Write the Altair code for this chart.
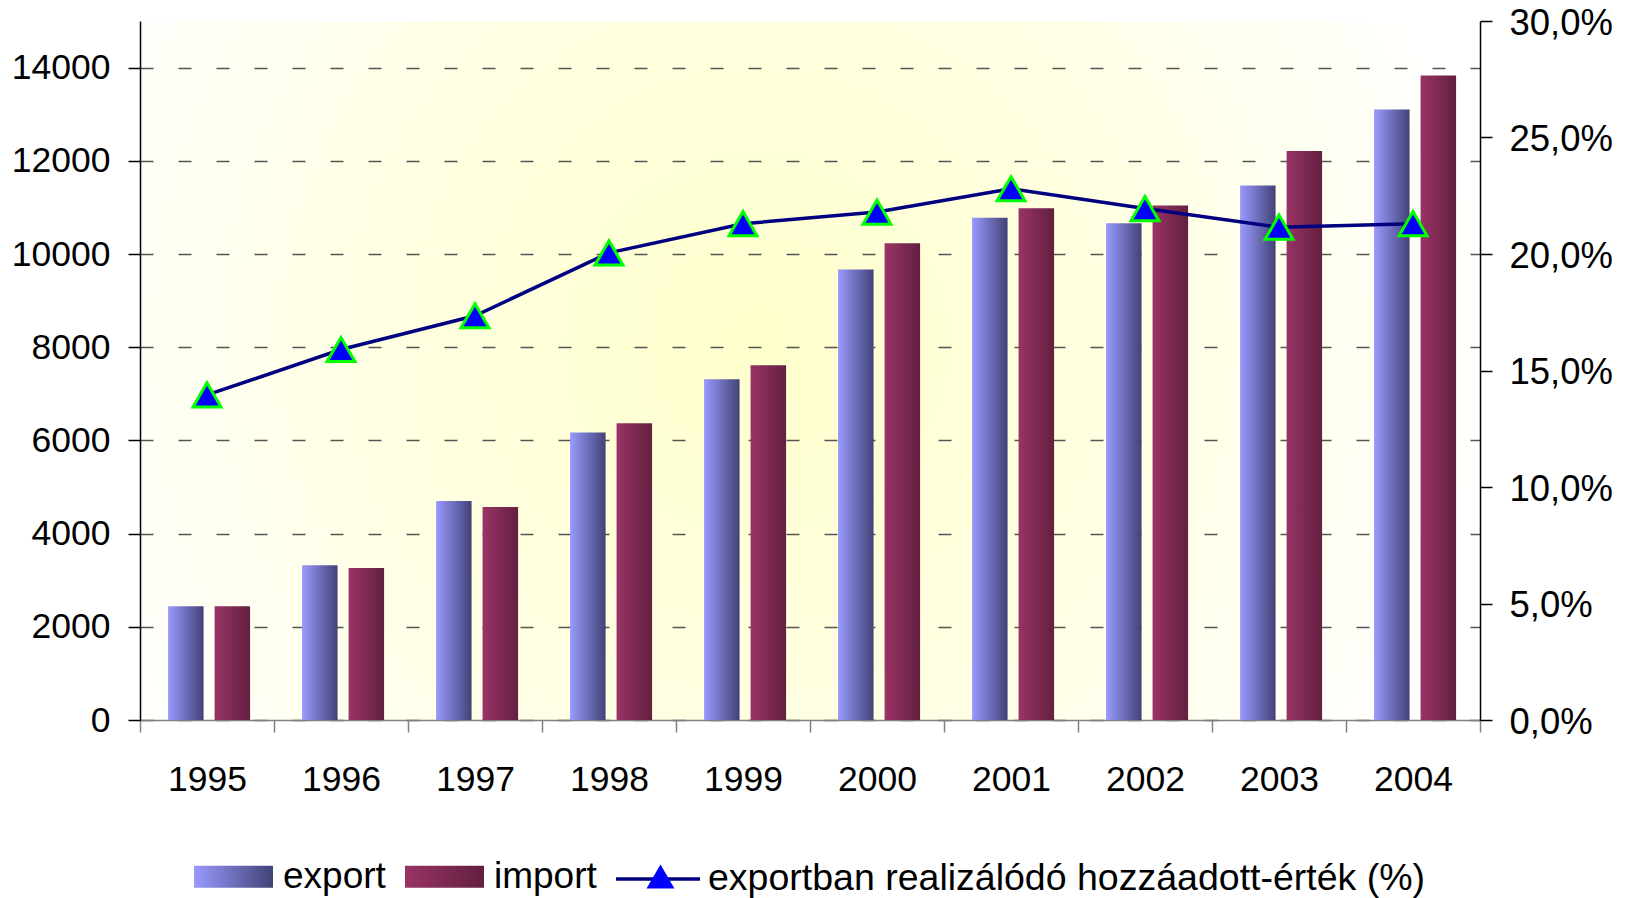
import altair as alt
import pandas as pd

# ---------------- data ----------------
years = ["1995", "1996", "1997", "1998", "1999", "2000", "2001", "2002", "2003", "2004"]
export_vals = [2440, 3320, 4700, 6170, 7310, 9670, 10780, 10660, 11470, 13100]
import_vals = [2440, 3260, 4570, 6370, 7610, 10230, 10980, 11040, 12210, 13830]
pct_vals = [13.95, 15.9, 17.35, 20.05, 21.3, 21.8, 22.8, 21.95, 21.15, 21.3]
series_names = ["export", "import"]
line_name = "exportban realizálódó hozzáadott-érték (%)"
marker_name = "marker"
left_ticks = [0, 2000, 4000, 6000, 8000, 10000, 12000, 14000]
right_ticks = [0, 5, 10, 15, 20, 25, 30]

bars_df = pd.DataFrame({
    "year": years + years,
    "series": [series_names[0]] * len(years) + [series_names[1]] * len(years),
    "value": export_vals + import_vals,
})
line_df = pd.DataFrame({
    "year": years,
    "pct": pct_vals,
    "lname": [line_name] * len(years),
    "mname": [marker_name] * len(years),
})

# ---------------- styles ----------------
FONT = "Liberation Sans"
grad_export = ("{gradient:'linear', x1:0, y1:0, x2:1, y2:0, stops:["
               "{offset:0, color:'#9a9aff'}, {offset:1, color:'#424277'}]}")
grad_import = ("{gradient:'linear', x1:0, y1:0, x2:1, y2:0, stops:["
               "{offset:0, color:'#993366'}, {offset:1, color:'#62203f'}]}")
bg_grad = ("{gradient:'radial', x1:0.46, y1:0.48, r1:0, x2:0.46, y2:0.48, r2:0.56, stops:["
           "{offset:0, color:'#ffffcc'}, {offset:0.5, color:'#ffffe2'}, {offset:1, color:'#ffffff'}]}")

x_axis = alt.Axis(title=None, labelFontSize=35.5, labelColor="black", labelPadding=30,
                  tickSize=12, tickColor="#808080", tickWidth=1.5,
                  domainColor="#808080", domainWidth=1.5, tickBand="extent",
                  labelAngle=0, grid=False, labelFont=FONT)
x_scale = alt.Scale(paddingInner=0, paddingOuter=0)

right_axis = alt.Axis(title=None, orient="right", values=right_ticks,
                      labelExpr="replace(format(datum.value, '.1f'), '.', ',') + '%'",
                      labelFontSize=36.5, labelColor="black", labelPadding=17, labelOffset=2,
                      tickSize=12, tickColor="black", tickWidth=1.5, domainColor="black",
                      domainWidth=1.5, grid=False, labelFont=FONT)
pct_scale = alt.Scale(domain=[0, 30], nice=False)

bars = alt.Chart(bars_df).mark_bar().encode(
    x=alt.X("year:N", scale=x_scale, axis=x_axis, sort=years),
    xOffset=alt.XOffset("series:N", sort=series_names,
                        scale=alt.Scale(domain=series_names, paddingInner=0.2366,
                                        paddingOuter=0.559, align=0.54)),
    y=alt.Y("value:Q", scale=alt.Scale(domain=[0, 15000], nice=False),
            axis=alt.Axis(title=None, values=left_ticks, format="d", labelFontSize=35.5,
                          labelColor="black", labelPadding=18, tickSize=12, tickColor="black",
                          tickWidth=1.5, domainColor="black", domainWidth=1.5, grid=True,
                          gridColor="#555555", gridDash=[13, 25], gridWidth=1.5, labelFont=FONT)),
    fill=alt.Fill("series:N",
                  scale=alt.Scale(domain=series_names,
                                  range=[alt.ExprRef(expr=grad_export), alt.ExprRef(expr=grad_import)]),
                  legend=alt.Legend(title=None, orient="none", legendX=54, legendY=816,
                                    direction="horizontal", padding=0,
                                    symbolType="M-1,-0.28H1V0.28H-1Z", symbolSize=6241,
                                    symbolStrokeWidth=0, labelFontSize=37, labelColor="black",
                                    labelFont=FONT, labelOffset=10, columnPadding=19,
                                    labelLimit=0)),
)

line = alt.Chart(line_df).mark_line(strokeWidth=3.5).encode(
    x=alt.X("year:N", scale=x_scale, axis=x_axis, sort=years),
    y=alt.Y("pct:Q", scale=pct_scale, axis=right_axis),
    stroke=alt.Stroke("lname:N", scale=alt.Scale(domain=[line_name], range=["#000080"]),
                      legend=alt.Legend(title=None, orient="none", legendX=474, legendY=814,
                                        padding=0, symbolType="stroke", symbolSize=7056,
                                        symbolStrokeWidth=3.5, symbolStrokeColor="#000080",
                                        labelFontSize=37.5, labelColor="black", labelFont=FONT,
                                        labelOffset=6, labelLimit=0)),
)

points = alt.Chart(line_df).mark_point(filled=True, fill="#0000ff", stroke="#00ff00",
                                       strokeWidth=3, size=780, opacity=1).encode(
    x=alt.X("year:N", scale=x_scale, axis=x_axis, sort=years),
    y=alt.Y("pct:Q", scale=pct_scale, axis=right_axis),
    shape=alt.Shape("mname:N", scale=alt.Scale(domain=[marker_name], range=["triangle-up"]),
                    legend=alt.Legend(title=None, orient="none", legendX=502, legendY=837,
                                      padding=0, symbolSize=780, symbolFillColor="#0000ff",
                                      symbolStrokeColor="#00ff00", symbolStrokeWidth=3,
                                      labelFontSize=37, labelExpr="''", labelFont=FONT,
                                      labelOffset=0)),
)

chart = alt.layer(bars, alt.layer(line, points)).resolve_scale(
    y="independent"
).properties(
    width=1340,
    height=699,
    autosize=alt.AutoSizeParams(type="none"),
    padding={"left": 132, "top": 13, "right": 134, "bottom": 178},
    view=alt.ViewBackground(fill=alt.ExprRef(expr=bg_grad), stroke="transparent"),
    background="white",
).configure(font=FONT)

chart.save("out.html", embed_options={"renderer": "svg", "actions": False})
